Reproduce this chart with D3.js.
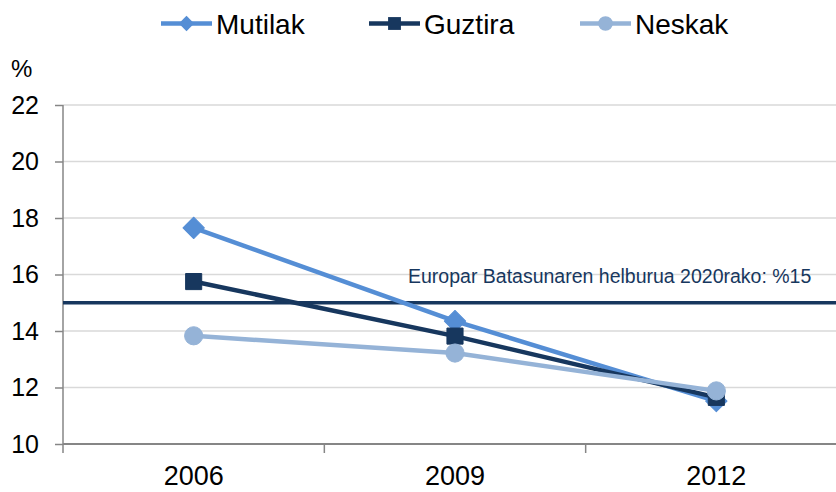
<!DOCTYPE html>
<html>
<head>
<meta charset="utf-8">
<script src="https://cdn.jsdelivr.net/npm/d3@7"></script>
<style>
  body { margin: 0; background: #fff; }
  text { font-family: "Liberation Sans", Arial, sans-serif; }
</style>
</head>
<body>
<div class="container"></div>
<script>
const width = 836;
const height = 492;

const years = ["2006", "2009", "2012"];
const mutilak = [17.65, 14.35, 11.52];
const guztira = [15.75, 13.82, 11.65];
const neskak = [13.83, 13.22, 11.88];
const yTicks = [10, 12, 14, 16, 18, 20, 22];
const target = 15;
const targetLabel = "Europar Batasunaren helburua 2020rako: %15";

const series = [
    { name: "Mutilak", values: mutilak, color: "#558ed5", shape: "diamond" },
    { name: "Guztira", values: guztira, color: "#17375e", shape: "square" },
    { name: "Neskak", values: neskak, color: "#95b3d7", shape: "circle" }
];

const svg = d3.select(".container")
    .append("svg")
    .attr("width", width)
    .attr("height", height);

const x = d3.scaleBand()
    .domain(years)
    .range([63, 847]);

const y = d3.scaleLinear()
    .domain([10, 22])
    .range([444, 105]);

// gridlines
svg.append("g")
    .selectAll("line")
    .data(yTicks.filter(d => d > 10))
    .enter()
    .append("line")
    .attr("x1", 63)
    .attr("x2", width)
    .attr("y1", d => y(d))
    .attr("y2", d => y(d))
    .attr("stroke", "#d9d9d9")
    .attr("stroke-width", 1.5);

// y axis
const yAxis = svg.append("g")
    .attr("transform", "translate(63,0)")
    .call(d3.axisLeft(y).tickValues(yTicks).tickSize(8).tickPadding(16));
yAxis.select(".domain").remove();
yAxis.selectAll(".tick line").attr("stroke", "#868686").attr("stroke-width", 1.5);
yAxis.selectAll(".tick text")
    .attr("font-size", 25)
    .attr("fill", "#000")
    .attr("font-family", "Liberation Sans, Arial, sans-serif");
svg.append("line")
    .attr("x1", 63).attr("x2", 63)
    .attr("y1", 105).attr("y2", 453)
    .attr("stroke", "#868686")
    .attr("stroke-width", 1.5);

// x axis
svg.append("line")
    .attr("x1", 63).attr("x2", width)
    .attr("y1", 444).attr("y2", 444)
    .attr("stroke", "#868686")
    .attr("stroke-width", 2);
svg.append("g")
    .selectAll("line")
    .data(years.slice(1))
    .enter()
    .append("line")
    .attr("x1", d => x(d))
    .attr("x2", d => x(d))
    .attr("y1", 444)
    .attr("y2", 453)
    .attr("stroke", "#868686")
    .attr("stroke-width", 1.5);
svg.append("g")
    .selectAll("text")
    .data(years)
    .enter()
    .append("text")
    .attr("x", d => x(d) + x.bandwidth() / 2)
    .attr("y", 485)
    .attr("text-anchor", "middle")
    .attr("font-size", 27)
    .text(d => d);

svg.append("text")
    .attr("x", 11)
    .attr("y", 77)
    .attr("font-size", 24)
    .text("%");

// target line
svg.append("line")
    .attr("x1", 63).attr("x2", width)
    .attr("y1", y(target)).attr("y2", y(target))
    .attr("stroke", "#17375e")
    .attr("stroke-width", 3.5);
svg.append("text")
    .attr("x", 408)
    .attr("y", 283)
    .attr("font-size", 19.5)
    .attr("fill", "#17375e")
    .text(targetLabel);

const symbols = {
    diamond: d3.symbol().type(d3.symbolSquare2).size(290),
    square: d3.symbol().type(d3.symbolSquare2).size(330),
    circle: d3.symbol().type(d3.symbolCircle).size(260)
};

const line = d3.line()
    .x((d, i) => x(years[i]) + x.bandwidth() / 2)
    .y(d => y(d));

series.forEach(s => {
    const g = svg.append("g");
    g.append("path")
        .attr("d", line(s.values))
        .attr("fill", "none")
        .attr("stroke", s.color)
        .attr("stroke-width", 4.5)
        .attr("stroke-linejoin", "round");
    g.selectAll("path.m")
        .data(s.values)
        .enter()
        .append("path")
        .attr("class", "m")
        .attr("transform", (d, i) => `translate(${x(years[i]) + x.bandwidth() / 2},${y(d)})` + (s.shape === "diamond" ? " rotate(45)" : ""))
        .attr("d", symbols[s.shape]())
        .attr("fill", s.color)
        .attr("stroke", s.color)
        .attr("stroke-width", 1)
        .attr("stroke-linejoin", s.shape === "diamond" ? "round" : "miter");
});

// legend
const legendX = [161, 369, 580];
const legendSize = { diamond: 150, square: 210, circle: 170 };
const legend = svg.append("g");
series.forEach((s, i) => {
    const lg = legend.append("g").attr("transform", `translate(${legendX[i]},23.5)`);
    lg.append("line")
        .attr("x1", 0).attr("x2", 51)
        .attr("stroke", s.color)
        .attr("stroke-width", 4.5);
    lg.append("path")
        .attr("transform", s.shape === "diamond" ? "translate(25.5,0) rotate(45)" : "translate(25.5,0)")
        .attr("d", d3.symbol().type(s.shape === "circle" ? d3.symbolCircle : d3.symbolSquare2).size(legendSize[s.shape])())
        .attr("fill", s.color);
    lg.append("text")
        .attr("x", 55)
        .attr("y", 10.5)
        .attr("font-size", 28)
        .text(s.name);
});
</script>
</body>
</html>
